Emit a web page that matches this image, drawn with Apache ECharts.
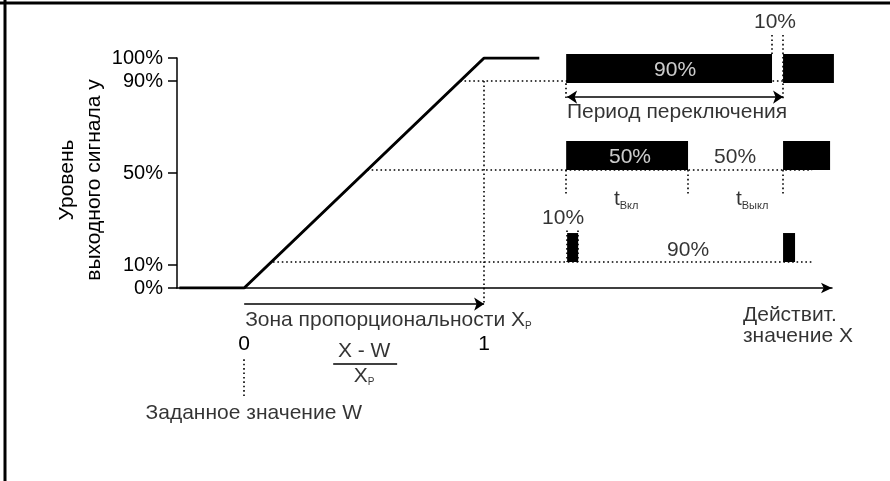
<!DOCTYPE html>
<html>
<head>
<meta charset="utf-8">
<script src="https://cdn.jsdelivr.net/npm/echarts@6/dist/echarts.min.js"></script>
<style>html,body{margin:0;padding:0;background:#fff}#c{width:890px;height:481px}</style>
</head>
<body>
<div id="c"></div>
<script>
// ---- data ----
const levelTicks = [0, 10, 50, 90, 100];          // output level, %
const xTicks = [0, 1];                            // (X - W) / Xp
const characteristicX = [-0.27, 0, 1, 1.23];
const characteristicY = [0, 0, 100, 100];
// switching pulses: three rows (90 %, 50 %, 10 %), two pulses each
const pulseStart = [1.342, 2.246, 1.342, 2.246, 1.346, 2.246];
const pulseEnd   = [2.200, 2.458, 1.850, 2.442, 1.392, 2.296];
const pulseBase  = [89.1, 89.1, 51.3, 51.3, 11.3, 11.3];
const pulseTop   = [101.7, 101.7, 63.9, 63.9, 23.9, 23.9];
const dutyLabels = ['90%', '10%', '50%', '50%', '10%', '90%'];
const guideLevels = [90, 51.3, 11.3];
const guideFrom = [0.9, 0.513, 0.12];
const guideTo = [2.246, 2.367, 2.37];

const FONT = 'Liberation Sans, Arial, sans-serif';
const chart = echarts.init(document.getElementById('c'), null, {renderer: 'canvas'});

const pulses = pulseStart.map((s, i) => [s, pulseEnd[i], pulseBase[i], pulseTop[i]]);

const dotted = [];
guideLevels.forEach((lv, i) => dotted.push({coords: [[guideFrom[i], lv], [guideTo[i], lv]]}));
[
  [[1, 90], [1, -7.5]],
  [[2.2, 110], [2.2, 101.7]],
  [[2.246, 110], [2.246, 81.7]],
  [[1.342, 89], [1.342, 81.7]],
  [[1.342, 51.3], [1.342, 40.4]],
  [[1.85, 51.3], [1.85, 40.4]],
  [[2.246, 51.3], [2.246, 40.4]],
  [[1.346, 25], [1.346, 11.3]],
  [[1.392, 25], [1.392, 11.3]],
  [[0, -31], [0, -47]]
].forEach(c => dotted.push({coords: c}));

function txt(value, formatter, opts) {
  return {value: value, label: Object.assign({formatter: formatter}, opts || {})};
}
const rich = {
  m: {fontSize: 21, fontFamily: FONT, color: '#000'},
  s: {fontSize: 10, fontFamily: FONT, color: '#000', padding: [12, 0, 0, 0]},
  sv: {fontSize: 11, fontFamily: FONT, color: '#000', padding: [14, 0, 0, 0]}
};

const annotations = [
  txt([1.796, 94.8], dutyLabels[0], {color: '#fff'}),
  txt([2.2125, 115.7], dutyLabels[1]),
  txt([1.608, 57], dutyLabels[2], {color: '#fff'}),
  txt([2.046, 57], dutyLabels[3]),
  txt([1.329, 30.4], dutyLabels[4]),
  txt([1.85, 16.5], dutyLabels[5]),
  txt([1.804, 76.5], 'Период переключения'),
  txt([1.592, 38.5], '{m|t}{sv|Вкл}'),
  txt([2.117, 38.5], '{m|t}{sv|Выкл}'),
  txt([0.004, -13.9], '{m|Зона пропорциональности X}{s|P}', {align: 'left'}),
  txt([0.5, -27.4], 'X - W'),
  txt([0.5, -38.3], '{m|X}{s|P}'),
  txt([0.04, -54.3], 'Заданное значение W'),
  txt([2.079, -16.3], 'Действит.\nзначение X', {align: 'left', lineHeight: 21})
];

const lineBase = {type: 'lines', coordinateSystem: 'cartesian2d', silent: true, clip: false, z: 4};

const option = {
  animation: false,
  backgroundColor: '#fff',
  grid: {left: 177, right: 58, top: 58, bottom: 193, containLabel: false},
  xAxis: {
    type: 'value', min: -0.28, max: 2.45,
    axisLine: {show: true, onZero: false, lineStyle: {color: '#000', width: 1.5}, symbol: ['none', 'arrow'], symbolSize: [8, 11]},
    axisTick: {show: false},
    splitLine: {show: false},
    axisLabel: {customValues: xTicks, margin: 46, color: '#000', fontSize: 21, fontFamily: FONT}
  },
  yAxis: {
    type: 'value', min: 0, max: 100,
    axisLine: {show: true, onZero: false, lineStyle: {color: '#000', width: 1.5}},
    axisTick: {show: true, customValues: levelTicks, length: 9, lineStyle: {color: '#000', width: 1.5}},
    splitLine: {show: false},
    axisLabel: {customValues: levelTicks, formatter: '{value}%', margin: 14, color: '#000', fontSize: 20, fontFamily: FONT}
  },
  graphic: [
    {type: 'line', shape: {x1: 0, y1: 3, x2: 890, y2: 3}, style: {stroke: '#000', lineWidth: 3}},
    {type: 'line', shape: {x1: 5, y1: 0, x2: 5, y2: 481}, style: {stroke: '#000', lineWidth: 3}},
    {type: 'text', x: 81, y: 180, rotation: Math.PI / 2,
     style: {text: 'Уровень\nвыходного сигнала y', font: '21px ' + FONT, fill: '#000',
             align: 'center', verticalAlign: 'middle', lineHeight: 27}}
  ],
  series: [
    Object.assign({}, lineBase, {
      z: 2, symbol: 'none',
      lineStyle: {color: '#000', width: 1.6, type: [1.6, 2.8], opacity: 1},
      data: dotted
    }),
    {
      type: 'custom', silent: true, clip: false, z: 3,
      encode: {x: [0, 1], y: [2, 3]},
      data: pulses,
      renderItem: function (params, api) {
        const p1 = api.coord([api.value(0), api.value(3)]);
        const p2 = api.coord([api.value(1), api.value(2)]);
        return {type: 'rect', shape: {x: p1[0], y: p1[1], width: p2[0] - p1[0], height: p2[1] - p1[1]},
                style: {fill: '#000'}};
      }
    },
    {
      type: 'line', silent: true, z: 4,
      data: characteristicX.map((x, i) => [x, characteristicY[i]]),
      showSymbol: false, symbol: 'none',
      lineStyle: {color: '#000', width: 3}
    },
    Object.assign({}, lineBase, {
      lineStyle: {color: '#000', width: 1.5, opacity: 1},
      symbol: ['arrow', 'arrow'], symbolSize: 10,
      data: [{coords: [[1.346, 83], [2.246, 83]]}]
    }),
    Object.assign({}, lineBase, {
      lineStyle: {color: '#000', width: 1.5, opacity: 1},
      symbol: ['none', 'arrow'], symbolSize: 10,
      data: [{coords: [[0, -7], [1, -7]]}]
    }),
    Object.assign({}, lineBase, {
      lineStyle: {color: '#000', width: 1.5, opacity: 1},
      symbol: 'none',
      data: [{coords: [[0.371, -33], [0.6375, -33]]}]
    }),
    {
      type: 'scatter', silent: true, clip: false, z: 10,
      symbolSize: 0,
      label: {show: true, position: [0, 0], align: 'center', verticalAlign: 'middle',
              fontSize: 21, fontFamily: FONT, color: '#000', rich: rich},
      data: annotations
    }
  ]
};
chart.setOption(option);
</script>
</body>
</html>
